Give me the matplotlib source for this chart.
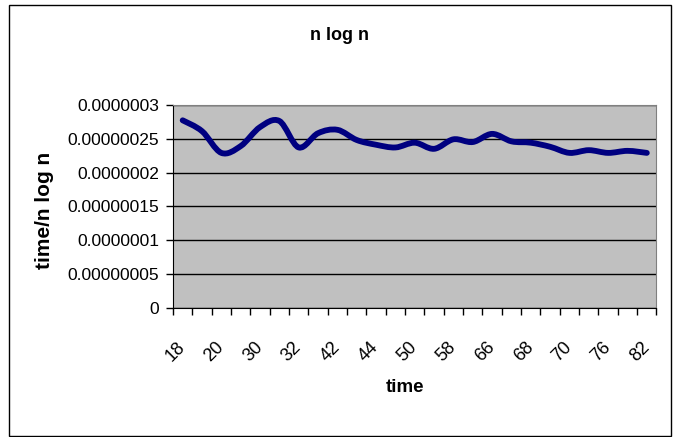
import numpy as np
import matplotlib.pyplot as plt
from matplotlib.path import Path
from matplotlib.patches import PathPatch, Rectangle

plt.rcParams['font.family'] = ['Liberation Sans', 'DejaVu Sans']

# run sizes (only every other one is labelled on the axis)
categories = ["18", "19", "20", "26", "30", "31", "32", "40", "42", "43", "44", "48", "50",
              "54", "58", "62", "66", "67", "68", "69", "70", "74", "76", "80", "82"]
time_per_nlogn = [2.77e-7, 2.61e-7, 2.29e-7, 2.39e-7, 2.67e-7, 2.76e-7, 2.37e-7, 2.58e-7,
                  2.63e-7, 2.48e-7, 2.41e-7, 2.37e-7, 2.44e-7, 2.35e-7, 2.49e-7, 2.45e-7,
                  2.57e-7, 2.46e-7, 2.44e-7, 2.38e-7, 2.29e-7, 2.33e-7, 2.29e-7, 2.32e-7,
                  2.29e-7]
y_ticks = [0, 0.5e-7, 1e-7, 1.5e-7, 2e-7, 2.5e-7, 3e-7]
y_tick_labels = ["0", "0.00000005", "0.0000001", "0.00000015", "0.0000002",
                 "0.00000025", "0.0000003"]


def smooth_path(xs, ys):
    # catmull-rom style bezier through every point, like a spreadsheet "smoothed line"
    n = len(xs)
    verts = [(xs[0], ys[0])]
    codes = [Path.MOVETO]
    for i in range(n - 1):
        x0, y0 = xs[max(i - 1, 0)], ys[max(i - 1, 0)]
        x1, y1 = xs[i], ys[i]
        x2, y2 = xs[i + 1], ys[i + 1]
        x3, y3 = xs[min(i + 2, n - 1)], ys[min(i + 2, n - 1)]
        verts += [(x1 + (x2 - x0) / 6, y1 + (y2 - y0) / 6),
                  (x2 - (x3 - x1) / 6, y2 - (y3 - y1) / 6),
                  (x2, y2)]
        codes += [Path.CURVE4] * 3
    return Path(verts, codes)


fig = plt.figure(figsize=(6.76, 4.37), dpi=100)
fig.patch.set_facecolor('white')
ax = fig.add_axes([173 / 676, 1 - 308.3 / 437, 483.5 / 676, 203.6 / 437])
ax.set_facecolor('#C0C0C0')

x = np.arange(len(categories))
line = PathPatch(smooth_path(x, time_per_nlogn), facecolor='none', edgecolor='#000080',
                 lw=4.2, capstyle='round', joinstyle='round', zorder=3)
ax.add_patch(line)

ax.set_xlim(-0.5, len(categories) - 0.5)
ax.set_ylim(0, 3e-7)

ax.set_yticks(y_ticks)
ax.set_yticklabels(y_tick_labels, fontsize=12.5)
ax.tick_params(axis='y', direction='out', length=5, width=1, pad=5, colors='black')
ax.yaxis.grid(True, color='black', lw=1)
ax.set_axisbelow(True)

ax.set_xticks(x[::2])
ax.set_xticklabels(categories[::2], fontsize=13)
ax.set_xticks(np.arange(-0.5, len(categories), 1), minor=True)
ax.tick_params(axis='x', which='major', length=0, pad=26)
ax.tick_params(axis='x', which='minor', direction='out', length=5, width=1)
for lab in ax.get_xticklabels():
    lab.set(rotation=45, ha='right', va='center', rotation_mode='anchor')

for side in ['top', 'right']:
    ax.spines[side].set_color('#808080')
for side in ['left', 'bottom']:
    ax.spines[side].set_color('black')

fig.text(340 / 676, 1 - 35 / 437, "n log n", ha='center', va='center',
         fontsize=13, fontweight='bold')
fig.text(405 / 676, 1 - 387 / 437, "time", ha='center', va='center',
         fontsize=13.5, fontweight='bold')
fig.text(45 / 676, 1 - 210 / 437, "time/n log n", ha='center', va='center',
         rotation=90, fontsize=15, fontweight='bold')

# chart frame
fig.patches.append(Rectangle((8.5 / 676, 1 / 437), 662 / 676, 431 / 437,
                             transform=fig.transFigure, fill=False,
                             edgecolor='black', lw=1))

fig.savefig('out.png', dpi=100)
